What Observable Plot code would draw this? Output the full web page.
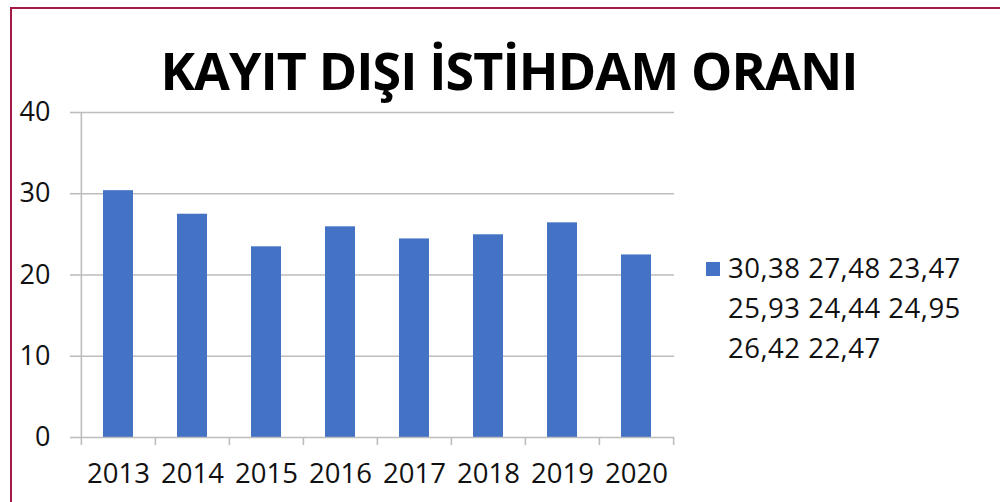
<!DOCTYPE html>
<html>
<head>
<meta charset="utf-8">
<script src="https://cdn.jsdelivr.net/npm/d3@7"></script>
<script src="https://cdn.jsdelivr.net/npm/@observablehq/plot@0.6"></script>
<style>
  html, body { margin: 0; padding: 0; background: #fff; }
  #wrap { position: relative; width: 1000px; height: 502px; overflow: hidden; background: #fff; font-family: "Open Sans", sans-serif; }
  #border { position: absolute; left: 10px; top: 7px; width: 1100px; height: 600px; border: 2.5px solid #a31a44; box-sizing: border-box; }
  #title { position: absolute; left: 0; width: 1018px; top: 35px; text-align: center; font-weight: 700; font-size: 52px; line-height: 70px; color: #000; letter-spacing: -0.9px; }
  #legend { position: absolute; left: 706px; top: 248px; font-size: 27.5px; line-height: 40px; color: #111; font-weight: 500; letter-spacing: 0.5px; }
  #legend .sw { position: absolute; left: 0; top: 14px; width: 14px; height: 14px; background: #4472c4; }
  #legend .txt { position: absolute; left: 22px; top: 0; white-space: nowrap; }
  #chart { position: absolute; left: 0; top: 0; }
</style>
</head>
<body>
<div id="wrap">
  <div id="chart"></div>
  <div id="border"></div>
  <div id="title">KAYIT DIŞI İSTİHDAM ORANI</div>
  <div id="legend"><div class="sw"></div><div class="txt" id="legendText"></div></div>
</div>
<script>
const years = ["2013","2014","2015","2016","2017","2018","2019","2020"];
const values = [30.38, 27.48, 23.47, 25.93, 24.44, 24.95, 26.42, 22.47];
const yTicks = [0, 10, 20, 30, 40];
const legendLines = ["30,38 27,48 23,47", "25,93 24,44 24,95", "26,42 22,47"];

const data = years.map((y, i) => ({year: y, value: values[i]}));

const W = 1000, H = 502, mL = 80, mR = 326, mT = 112, mB = 65;
const step = (W - mL - mR) / years.length;
const gray = "#bdbdbd";

const chart = Plot.plot({
  width: W, height: H,
  marginLeft: mL, marginRight: mR, marginTop: mT, marginBottom: mB,
  style: {fontFamily: "Open Sans, sans-serif", background: "transparent", color: "#111", fontWeight: 500},
  x: {domain: years, paddingInner: 0.6, paddingOuter: 0.3},
  y: {domain: [0, 40]},
  marks: [
    Plot.ruleY(yTicks.filter(d => d > 0), {stroke: gray, strokeWidth: 1.6}),
    Plot.barY(data, {x: "year", y: "value", fill: "#4472c4"}),
    Plot.ruleY([0], {stroke: gray, strokeWidth: 1.6}),
    Plot.ruleX(years, {x: d => d, y1: 0, y2: -1, dx: -step / 2, stroke: gray, strokeWidth: 1.6}),
    Plot.ruleX([years[years.length - 1]], {x: d => d, y1: 0, y2: -1, dx: step / 2, stroke: gray, strokeWidth: 1.6}),
    Plot.ruleX([years[0]], {x: d => d, y1: 0, y2: 40, dx: -step / 2, stroke: gray, strokeWidth: 1.6}),
    Plot.axisY(yTicks, {tickSize: 10, tickPadding: 20, stroke: gray, strokeWidth: 1.6, fontSize: 27, fill: "#111", label: null}),
    Plot.axisX({tickSize: 0, tickPadding: 26, fontSize: 27.5, fill: "#111", label: null})
  ]
});
document.getElementById("chart").appendChild(chart);
document.getElementById("legendText").innerHTML = legendLines.join("<br>");
</script>
</body>
</html>
